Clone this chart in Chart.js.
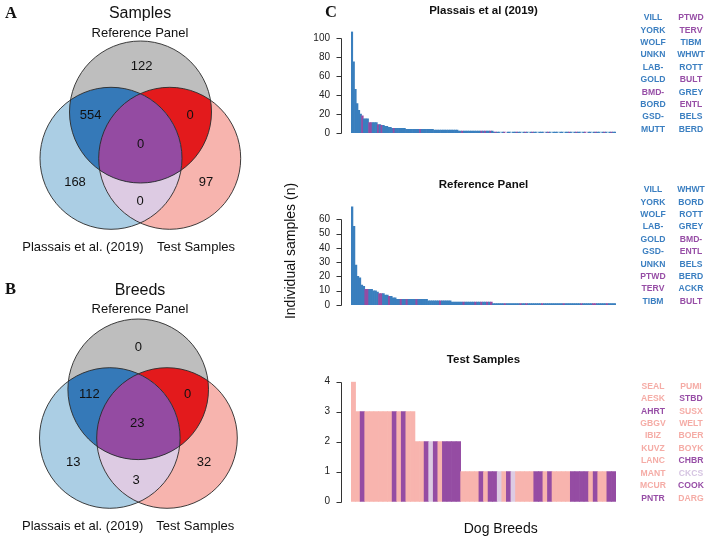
<!DOCTYPE html>
<html><head><meta charset="utf-8">
<script src="https://cdn.jsdelivr.net/npm/chart.js@4.4.1/dist/chart.umd.min.js"></script>
<style>
html,body{margin:0;padding:0;background:#fff;}
#wrap{position:relative;width:708px;height:538px;overflow:hidden;background:#fff;}
.box{position:absolute;}
</style></head><body>
<div id="wrap">
 <div class="box" style="left:0;top:0;width:280px;height:268px"><canvas id="vennA"></canvas></div>
 <div class="box" style="left:0;top:276px;width:280px;height:262px"><canvas id="vennB"></canvas></div>
 <div class="box" style="left:280px;top:0;width:428px;height:160px"><canvas id="barTop"></canvas></div>
 <div class="box" style="left:280px;top:160px;width:428px;height:172px"><canvas id="barMid"></canvas></div>
 <div class="box" style="left:280px;top:332px;width:428px;height:206px"><canvas id="barBot"></canvas></div>
</div>
<script>
// ================= DATA =================
const setLabels = ['Reference Panel', 'Plassais et al. (2019)', 'Test Samples'];
// Venn region order: Ref only, Plassais only, Test only, Ref∩Plassais, Ref∩Test, Plassais∩Test, all three
const vennRegions = ['ref', 'pla', 'test', 'refPla', 'refTest', 'plaTest', 'all'];
const sampleCounts = [122, 168, 97, 554, 0, 0, 0];
const breedCounts  = [0, 13, 32, 112, 0, 3, 23];

// Group codes: B = Ref∩Plassais, P = all three, L = Plassais only, V = Plassais∩Test, T = Test only
const plassaisTop20 = ['VILL','YORK','WOLF','UNKN','LAB-','GOLD','BMD-','BORD','GSD-','MUTT',
                       'PTWD','TERV','TIBM','WHWT','ROTT','BULT','GREY','ENTL','BELS','BERD'];
const plassaisValues = [
  107,75,46,31,24,20,18,15,15,15,
  11,11,11,11,11,9,9,8,8,7,
  7,6,6,5,5,5,5,5,5,5,
  5,4,4,4,4,4,4,4,4,4,
  4,4,4,4,4,4,4,3,3,3,
  3,3,3,3,3,3,3,3,3,3,
  3,2,2,2,2,2,2,2,2,2,
  2,2,2,2,2,2,2,2,2,2,
  2,1,1,1,1,1,1,1,1,1,
  1,1,1,1,1,1,1,1,1,1,
  1,1,1,1,1,1,1,1,1,1,
  1,1,1,1,1,1,1,1,1,1,
  1,1,1,1,1,1,1,1,1,1,
  1,1,1,1,1,1,1,1,1,1,
  1,1,1,1,1,1,1,1,1,1,
  1
];
const plassaisGroups = [
  'B','B','B','B','B','B','P','B','B','B',
  'P','P','B','B','B','P','B','P','B','B',
  'B','B','B','B','P','B','B','B','B','B',
  'B','B','B','B','B','B','B','B','B','P',
  'B','B','B','B','B','B','B','B','B','B',
  'B','B','B','B','B','B','B','B','B','B',
  'B','B','B','P','B','B','B','B','B','B',
  'B','B','B','B','P','B','P','B','B','P',
  'B','B','P','B','B','L','B','P','V','B',
  'B','L','B','B','P','B','B','L','B','P',
  'B','L','B','P','B','B','L','B','B','B',
  'V','B','P','B','L','B','B','B','L','B',
  'B','L','B','B','P','B','L','B','P','B',
  'B','L','B','P','V','B','B','L','B','P',
  'B','B','L','B','P','B','L','B','P','B',
  'B'
];

const referenceTop20 = ['VILL','YORK','WOLF','LAB-','GOLD','GSD-','UNKN','PTWD','TERV','TIBM',
                        'WHWT','BORD','ROTT','GREY','BMD-','ENTL','BELS','BERD','ACKR','BULT'];
const referenceValues = [
  69,55,28,20,19,14,13,11,11,11,
  11,10,10,9,8,8,8,7,7,6,
  6,5,5,4,4,4,4,4,4,4,
  4,4,4,4,4,4,4,4,4,3,
  3,3,3,3,3,3,3,3,3,3,
  3,2,2,2,2,2,2,2,2,2,
  2,2,2,2,2,2,2,2,2,2,
  2,2,1,1,1,1,1,1,1,1,
  1,1,1,1,1,1,1,1,1,1,
  1,1,1,1,1,1,1,1,1,1,
  1,1,1,1,1,1,1,1,1,1,
  1,1,1,1,1,1,1,1,1,1,
  1,1,1,1,1,1,1,1,1,1,
  1,1,1,1,1
];
const referenceGroups = [
  'B','B','B','B','B','B','B','P','P','B',
  'B','B','B','B','P','P','B','B','B','P',
  'B','B','B','B','B','P','B','B','P','B',
  'B','B','B','P','B','B','B','B','B','B',
  'B','B','B','B','B','P','B','B','B','B',
  'B','B','B','B','B','B','B','P','B','B',
  'B','B','B','P','B','B','P','B','B','P',
  'B','P','B','B','B','B','B','B','P','B',
  'B','B','B','B','B','B','P','B','B','P',
  'B','B','B','B','B','B','B','P','B','B',
  'B','B','B','B','B','B','B','B','P','B',
  'B','B','B','B','B','B','B','P','B','B',
  'B','B','B','P','P','B','B','B','B','B',
  'P','B','B','B','B'
];

const testTop20 = ['SEAL','AESK','AHRT','GBGV','IBIZ','KUVZ','LANC','MANT','MCUR','PNTR',
                   'PUMI','STBD','SUSX','WELT','BOER','BOYK','CHBR','CKCS','COOK','DARG'];
const testValues = [
  4,3,3,3,3,3,3,3,3,3,
  3,3,3,3,2,2,2,2,2,2,
  2,2,2,2,1,1,1,1,1,1,
  1,1,1,1,1,1,1,1,1,1,
  1,1,1,1,1,1,1,1,1,1,
  1,1,1,1,1,1,1,1
];
const testGroups = [
  'T','T','P','T','T','T','T','T','T','P',
  'T','P','T','T','T','T','P','V','P','T',
  'P','P','P','P','T','T','T','T','P','T',
  'P','P','V','T','P','V','T','T','T','T',
  'P','P','T','P','T','T','T','T','P','P',
  'P','P','T','P','T','T','P','P'
];

// ================= STYLE =================
const FONT = '"Liberation Sans", Arial, Helvetica, sans-serif';
const SERIF = '"Liberation Serif", "Times New Roman", serif';
const COL = {
  ref: '#bebebe', pla: '#abcee4', test: '#f7b4ae',
  refPla: '#3579b8', refTest: '#e31a1c', plaTest: '#ddcbe3', all: '#944ba2'
};
const GROUP_FILL = { B: '#3a7fbe', P: '#954ca3', L: '#abcee4', V: '#ddcbe3', T: '#f8b4ae' };
const GROUP_TEXT = { B: '#3b7fc1', P: '#974ea6', L: '#9fc6e2', V: '#d6c5e2', T: '#f5aca6' };

// ================= VENN =================
const vennPlugin = {
  id: 'venn',
  beforeDatasetsDraw(chart, args, o) {
    const { ctx, scales: { x, y } } = chart;
    const g = o.geom;
    const c = g.circles.map(p => ({
      px: x.getPixelForValue(p[0]), py: y.getPixelForValue(p[1]),
      r: x.getPixelForValue(p[0] + g.r) - x.getPixelForValue(p[0])
    }));
    const [T, L, R] = c;
    const path = k => { ctx.beginPath(); ctx.arc(k.px, k.py, k.r, 0, Math.PI * 2); };
    const fill = (k, col) => { path(k); ctx.fillStyle = col; ctx.fill(); };
    ctx.save();
    fill(L, COL.pla); fill(R, COL.test); fill(T, COL.ref);
    ctx.save(); path(R); ctx.clip(); fill(T, COL.refTest); ctx.restore();
    ctx.save(); path(L); ctx.clip(); fill(R, COL.plaTest); fill(T, COL.refPla);
    path(R); ctx.clip(); fill(T, COL.all); ctx.restore();
    ctx.strokeStyle = '#2a2a2a'; ctx.lineWidth = 0.9;
    c.forEach(k => { path(k); ctx.stroke(); });
    ctx.restore();
  },
  afterDatasetsDraw(chart, args, o) {
    const { ctx, scales: { x, y } } = chart;
    const g = o.geom;
    const meta = chart.getDatasetMeta(0);
    ctx.save();
    ctx.fillStyle = '#111'; ctx.textAlign = 'center'; ctx.textBaseline = 'middle';
    ctx.font = '13px ' + FONT;
    meta.data.forEach((pt, i) => {
      ctx.fillText(String(chart.data.datasets[0].data[i].v), pt.x, pt.y);
    });
    ctx.fillText(setLabels[1], x.getPixelForValue(g.bottomLabels[0][0]), y.getPixelForValue(g.bottomLabels[0][1]));
    ctx.fillText(setLabels[2], x.getPixelForValue(g.bottomLabels[1][0]), y.getPixelForValue(g.bottomLabels[1][1]));
    ctx.font = 'bold 16.5px ' + SERIF;
    ctx.fillText(g.letter, g.letterPos[0], g.letterPos[1]);
    ctx.restore();
  }
};

function makeVenn(id, title, counts, geom) {
  const pts = counts.map((v, i) => ({ x: geom.regionPos[i][0], y: geom.regionPos[i][1], v }));
  return new Chart(document.getElementById(id), {
    type: 'scatter',
    data: { datasets: [{ data: pts, pointRadius: 0, pointHoverRadius: 0 }] },
    options: {
      responsive: true, maintainAspectRatio: false, animation: false, events: [],
      layout: { padding: 0 },
      plugins: {
        legend: { display: false }, tooltip: { enabled: false },
        title: { display: true, text: title, color: '#111', font: { family: FONT, size: 16, weight: 'normal' }, padding: geom.titlePad },
        subtitle: { display: true, text: setLabels[0], color: '#111', font: { family: FONT, size: 13 }, padding: geom.subPad },
        venn: { geom }
      },
      scales: {
        x: { type: 'linear', display: false, min: 0, max: 280 },
        y: { type: 'linear', display: false, min: 43, max: geom.yMax, reverse: true }
      }
    },
    plugins: [vennPlugin]
  });
}

makeVenn('vennA', 'Samples', sampleCounts, {
  circles: [[140.5, 112], [111, 158.3], [169.7, 158.3]], r: 71,
  regionPos: [[141.7, 66.7], [75, 182.7], [206, 182.7], [90.7, 115], [190, 115], [140, 201], [140.7, 144]],
  bottomLabels: [[83, 247.3], [196, 247.3]],
  yMax: 268, letter: 'A', letterPos: [11, 13.5],
  titlePad: { top: 3.6, bottom: 0 }, subPad: { top: 2.6, bottom: 2 }
});
makeVenn('vennB', 'Breeds', breedCounts, {
  circles: [[138.2, 113.3], [109.8, 162], [167, 162]], r: 70.3,
  regionPos: [[138.3, 71.3], [73.3, 186.7], [204, 186.7], [89.3, 118], [187.7, 118], [136, 204.7], [137.3, 147.3]],
  bottomLabels: [[82.7, 250], [195.3, 250]],
  yMax: 262, letter: 'B', letterPos: [10.5, 13.5],
  titlePad: { top: 4.6, bottom: 0 }, subPad: { top: 1.7, bottom: 1.9 }
});

// ================= BARS =================
const rAxisPlugin = {
  id: 'rAxis',
  afterDraw(chart) {
    const ys = chart.scales.y, ctx = chart.ctx;
    const ax = Math.round(chart.chartArea.left - 10) + 0.5;
    const t = ys.ticks;
    const p0 = Math.round(ys.getPixelForValue(t[0].value)) + 0.5;
    const p1 = Math.round(ys.getPixelForValue(t[t.length - 1].value)) + 0.5;
    ctx.save();
    ctx.strokeStyle = '#333'; ctx.lineWidth = 1;
    ctx.beginPath(); ctx.moveTo(ax, p0); ctx.lineTo(ax, p1);
    t.forEach(tk => { const py = Math.round(ys.getPixelForValue(tk.value)) + 0.5; ctx.moveTo(ax - 5, py); ctx.lineTo(ax, py); });
    ctx.stroke(); ctx.restore();
  }
};
const panelTextPlugin = {
  id: 'panelText',
  afterDraw(chart, args, o) {
    const { ctx, chartArea: a } = chart;
    ctx.save();
    ctx.textAlign = 'center'; ctx.textBaseline = 'middle';
    ctx.fillStyle = '#111'; ctx.font = 'bold 11.5px ' + FONT;
    ctx.fillText(o.title, (a.left + a.right) / 2, o.titleY);
    ctx.font = 'bold 8.6px ' + FONT;
    o.top20.forEach((name, i) => {
      const col = i < 10 ? 0 : 1, row = i % 10;
      ctx.fillStyle = GROUP_TEXT[o.groups[i]];
      ctx.fillText(name, col === 0 ? 373 : 411, a.bottom - 3.5 - (9 - row) * 12.42);
    });
    (o.extra || []).forEach(e => {
      ctx.save();
      ctx.fillStyle = '#111'; ctx.font = e.font;
      ctx.translate(e.x, e.y); if (e.rot) ctx.rotate(e.rot);
      ctx.fillText(e.text, 0, 0);
      ctx.restore();
    });
    ctx.restore();
  }
};

function makeBar(id, title, values, groups, top20, cfg) {
  return new Chart(document.getElementById(id), {
    type: 'bar',
    data: {
      labels: values.map((v, i) => String(i + 1)),
      datasets: [{ data: values, backgroundColor: groups.map(g => GROUP_FILL[g]), borderWidth: 0,
                   categoryPercentage: 1, barPercentage: 1 }]
    },
    options: {
      responsive: true, maintainAspectRatio: false, animation: false, events: [],
      layout: { padding: { left: 0, right: 92, top: cfg.padTop, bottom: cfg.padBottom } },
      plugins: {
        legend: { display: false }, tooltip: { enabled: false },
        panelText: { title, top20, groups, titleY: cfg.titleY, extra: cfg.extra }
      },
      scales: {
        x: { display: false },
        y: {
          min: 0, max: cfg.yMax,
          afterFit(s) { s.width = 71; },
          border: { display: false },
          grid: { display: false, drawTicks: false },
          ticks: { stepSize: cfg.step, includeBounds: false, padding: 21, color: '#222',
                   font: { family: FONT, size: 10 } }
        }
      }
    },
    plugins: [rAxisPlugin, panelTextPlugin]
  });
}

makeBar('barTop', 'Plassais et al (2019)', plassaisValues, plassaisGroups, plassaisTop20, {
  padTop: 31.5, padBottom: 9.7, yMax: 107, step: 20, titleY: 10.8,
  extra: [{ text: 'C', x: 51, y: 13, font: 'bold 16.5px ' + SERIF }]
});
makeBar('barMid', 'Reference Panel', referenceValues, referenceGroups, referenceTop20, {
  padTop: 46.4, padBottom: 6, yMax: 69, step: 10, titleY: 25,
  extra: [{ text: 'Individual samples (n)', x: 11.5, y: 91, rot: -Math.PI / 2, font: '14px ' + FONT }]
});
makeBar('barBot', 'Test Samples', testValues, testGroups, testTop20, {
  padTop: 49.7, padBottom: 36.3, yMax: 4, step: 1, titleY: 28,
  extra: [{ text: 'Dog Breeds', x: 220.7, y: 197, font: '14px ' + FONT }]
});
</script>
</body></html>
